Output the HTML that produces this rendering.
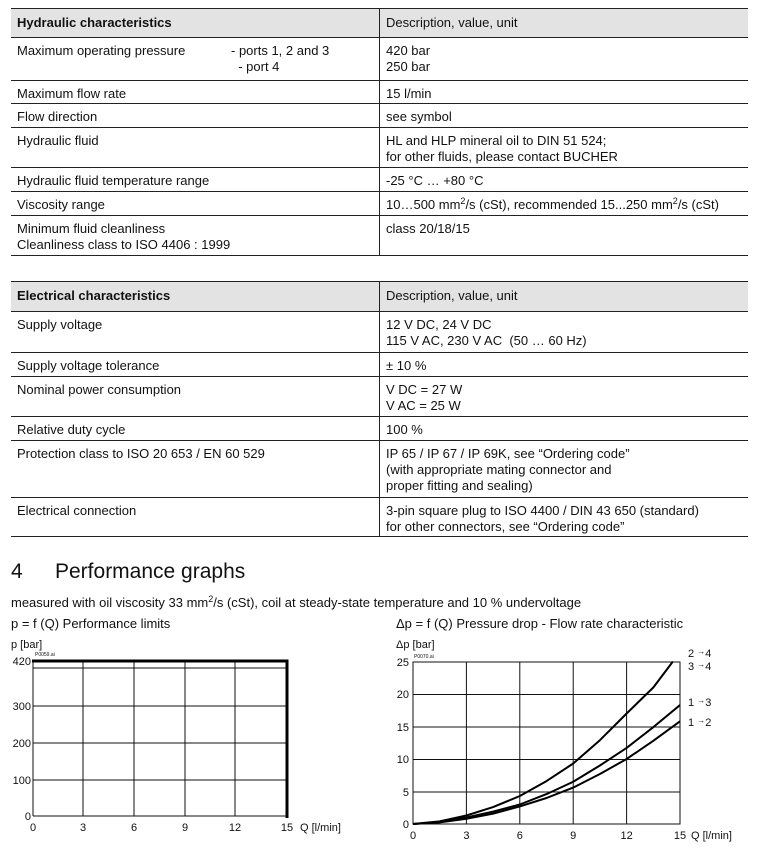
<!DOCTYPE html>
<html><head><meta charset="utf-8"><style>
body{margin:0;width:764px;height:867px;background:#fff;position:relative;font-family:"Liberation Sans",Arial,sans-serif;font-size:13px;color:#111;overflow:hidden}
.r{position:absolute;left:11px;width:737px;border-bottom:1px solid #222;box-sizing:border-box}
.c1,.c2{position:absolute;top:0;bottom:0;padding-top:5px;line-height:16px;box-sizing:border-box}
.c1{left:6px;width:360px}
.c2{left:368px;right:0;border-left:1px solid #222;padding-left:6px}
.h{background:#e3e3e3;border-top:1px solid #222;font-weight:bold;}
.h .c1,.h .c2{padding-top:6px}
.h .c2{font-weight:normal}
sup{font-size:9px;line-height:0;vertical-align:5px}
.t{position:absolute;white-space:nowrap}
</style></head><body>
<div class="r h" style="top:8px;height:30px"><div class="c1">Hydraulic characteristics</div><div class="c2">Description, value, unit</div></div>
<div class="r" style="top:38px;height:43px"><div class="c1">Maximum operating pressure<span style="position:absolute;left:214px;top:5px">- ports 1, 2 and 3<br>&nbsp;&nbsp;- port 4</span></div><div class="c2">420 bar<br>250 bar</div></div>
<div class="r" style="top:81px;height:23px"><div class="c1">Maximum flow rate</div><div class="c2">15 l/min</div></div>
<div class="r" style="top:104px;height:24px"><div class="c1">Flow direction</div><div class="c2">see symbol</div></div>
<div class="r" style="top:128px;height:40px"><div class="c1">Hydraulic fluid</div><div class="c2">HL and HLP mineral oil to DIN 51 524;<br>for other fluids, please contact BUCHER</div></div>
<div class="r" style="top:168px;height:24px"><div class="c1">Hydraulic fluid temperature range</div><div class="c2">-25 °C … +80 °C</div></div>
<div class="r" style="top:192px;height:24px"><div class="c1">Viscosity range</div><div class="c2">10…500 mm<sup>2</sup>/s (cSt), recommended 15...250 mm<sup>2</sup>/s (cSt)</div></div>
<div class="r" style="top:216px;height:40px"><div class="c1">Minimum fluid cleanliness<br>Cleanliness class to ISO 4406 : 1999</div><div class="c2">class 20/18/15</div></div>

<div class="r h" style="top:281px;height:31px"><div class="c1">Electrical characteristics</div><div class="c2">Description, value, unit</div></div>
<div class="r" style="top:312px;height:41px"><div class="c1">Supply voltage</div><div class="c2">12 V DC, 24 V DC<br>115 V AC, 230 V AC&nbsp; (50 … 60 Hz)</div></div>
<div class="r" style="top:353px;height:24px"><div class="c1">Supply voltage tolerance</div><div class="c2">± 10 %</div></div>
<div class="r" style="top:377px;height:40px"><div class="c1">Nominal power consumption</div><div class="c2">V DC = 27 W<br>V AC = 25 W</div></div>
<div class="r" style="top:417px;height:24px"><div class="c1">Relative duty cycle</div><div class="c2">100 %</div></div>
<div class="r" style="top:441px;height:57px"><div class="c1">Protection class to ISO 20 653 / EN 60 529</div><div class="c2">IP 65 / IP 67 / IP 69K, see “Ordering code”<br>(with appropriate mating connector and<br>proper fitting and sealing)</div></div>
<div class="r" style="top:498px;height:39px"><div class="c1">Electrical connection</div><div class="c2">3-pin square plug to ISO 4400 / DIN 43 650 (standard)<br>for other connectors, see “Ordering code”</div></div>

<div class="t" style="left:11px;top:560px;font-size:21px">4</div>
<div class="t" style="left:55px;top:560px;font-size:21px">Performance graphs</div>
<div class="t" style="left:11px;top:595px">measured with oil viscosity 33 mm<sup>2</sup>/s (cSt), coil at steady-state temperature and 10 % undervoltage</div>
<div class="t" style="left:11px;top:616px">p = f (Q) Performance limits</div>
<div class="t" style="left:396px;top:616px">Δp = f (Q) Pressure drop - Flow rate characteristic</div>

<svg width="764" height="867" style="position:absolute;left:0;top:0" font-family="Liberation Sans, Arial, sans-serif" font-size="11" fill="#111">
<g stroke="#111" stroke-width="1" fill="none">
<line x1="33" y1="668" x2="287" y2="668"/><line x1="33" y1="706" x2="287" y2="706"/><line x1="33" y1="743" x2="287" y2="743"/><line x1="33" y1="780" x2="287" y2="780"/><line x1="33" y1="816" x2="287" y2="816"/>
<line x1="33" y1="661" x2="33" y2="816"/><line x1="83" y1="661" x2="83" y2="816"/><line x1="134" y1="661" x2="134" y2="816"/><line x1="185" y1="661" x2="185" y2="816"/><line x1="235" y1="661" x2="235" y2="816"/>
</g>
<polyline points="32,661 287,661 287,818" stroke="#000" stroke-width="3" fill="none"/>
<text x="11" y="648">p [bar]</text>
<text x="35" y="656" font-size="5">P0059.ai</text>
<g text-anchor="end"><text x="31" y="665">420</text><text x="31" y="710">300</text><text x="31" y="747">200</text><text x="31" y="784">100</text><text x="31" y="820">0</text></g>
<g text-anchor="middle"><text x="33" y="831">0</text><text x="83" y="831">3</text><text x="134" y="831">6</text><text x="185" y="831">9</text><text x="235" y="831">12</text><text x="287" y="831">15</text></g>
<text x="300" y="831">Q [l/min]</text>

<g stroke="#111" stroke-width="1" fill="none">
<rect x="413" y="662" width="267" height="162"/>
<line x1="413" y1="694.5" x2="680" y2="694.5"/><line x1="413" y1="727" x2="680" y2="727"/><line x1="413" y1="759.5" x2="680" y2="759.5"/><line x1="413" y1="792" x2="680" y2="792"/>
<line x1="466.4" y1="662" x2="466.4" y2="824"/><line x1="519.8" y1="662" x2="519.8" y2="824"/><line x1="573.2" y1="662" x2="573.2" y2="824"/><line x1="626.6" y1="662" x2="626.6" y2="824"/>
</g>
<g stroke="#000" stroke-width="2" fill="none" stroke-linejoin="round">
<polyline points="413,824 439.7,821.4 466.4,815.5 493.1,807.1 519.8,796 546.5,781.1 573.2,763.5 599.9,740.2 626.6,713.5 653.3,687.5 672.9,661.5"/>
<polyline points="413,824 439.7,822.05 466.4,817.5 493.1,811.65 519.8,804.5 546.5,794.1 573.2,781.75 599.9,765.5 626.6,747.95 653.3,727.15 680,705.05"/>
<polyline points="413,824 439.7,822.4 466.4,818.8 493.1,813.6 519.8,806.45 546.5,798 573.2,787.6 599.9,774 626.6,759 653.3,740.8 680,721.3"/>
</g>
<text x="396" y="648">Δp [bar]</text>
<text x="414" y="658" font-size="5">P0070.ai</text>
<g text-anchor="end"><text x="409" y="666">25</text><text x="409" y="698">20</text><text x="409" y="731">15</text><text x="409" y="763">10</text><text x="409" y="796">5</text><text x="409" y="828">0</text></g>
<g text-anchor="middle"><text x="413" y="839">0</text><text x="466.4" y="839">3</text><text x="519.8" y="839">6</text><text x="573.2" y="839">9</text><text x="626.6" y="839">12</text><text x="680" y="839">15</text></g>
<text x="691" y="839">Q [l/min]</text>
<text x="688" y="657">2 <tspan font-size="8" dy="-3">→</tspan><tspan dy="3">4</tspan></text>
<text x="688" y="670">3 <tspan font-size="8" dy="-3">→</tspan><tspan dy="3">4</tspan></text>
<text x="688" y="706">1 <tspan font-size="8" dy="-3">→</tspan><tspan dy="3">3</tspan></text>
<text x="688" y="726">1 <tspan font-size="8" dy="-3">→</tspan><tspan dy="3">2</tspan></text>
</svg>
</body></html>
